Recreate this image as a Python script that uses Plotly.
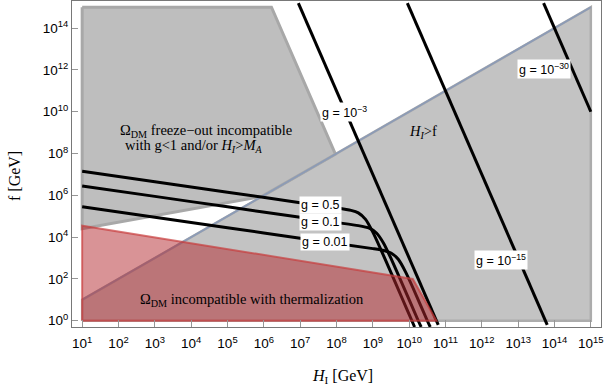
import plotly.graph_objects as go

# ---- data (log10 values) ----
x_tick_exps = list(range(1, 16))
y_tick_exps = list(range(0, 15, 2))
x_tick_labels = [f"10<sup>{k}</sup>" for k in x_tick_exps]
y_tick_labels = [f"10<sup>{k}</sup>" for k in y_tick_exps]

# region: H_I > f  (below the diagonal)
hf_region_h = [1, 1, 15, 15, 1]
hf_region_f = [0, 1, 15, 0, 0]

# region: freeze-out incompatible
fo_region_h = [1, 6.21, 7.97, 5.95, 1, 1]
fo_region_f = [15, 15, 7.97, 5.95, 4.4, 15]

# region: incompatible with thermalization
th_region_h = [1, 1, 10.1, 10.75, 1]
th_region_f = [0, 4.55, 2.0, 0, 0]

# straight lines (g = 1e-3, 1e-15, 1e-30)
g3_h = [6.95, 10.8]
g3_f = [15.2, -0.2]
g15_h = [9.95, 13.8]
g15_f = [15.2, -0.2]
g30_h = [13.7, 15.0]
g30_f = [15.2, 10.0]

# curves g = 0.5, 0.1, 0.01
g05_h = [1, 3, 5, 7, 8, 8.4, 8.6, 8.8, 9.0, 9.2, 9.5, 9.8, 10.075, 10.15]
g05_f = [7.15, 6.65, 6.15, 5.65, 5.40, 5.28, 5.16, 4.85, 4.24, 3.49, 2.30, 1.10, 0.0, -0.3]
g01_h = [1, 3, 5, 7, 8, 8.6, 8.9, 9.1, 9.3, 9.5, 9.8, 10.25, 10.33]
g01_f = [6.45, 5.95, 5.45, 4.95, 4.70, 4.55, 4.43, 4.20, 3.70, 2.98, 1.80, 0.0, -0.3]
g001_h = [1, 3, 5, 7, 9.0, 9.3, 9.5, 9.7, 9.9, 10.1, 10.5, 10.58]
g001_f = [5.45, 4.95, 4.45, 3.95, 3.45, 3.36, 3.24, 2.94, 2.34, 1.59, 0.0, -0.3]


def p(v):
    return [10 ** a for a in v]


fig = go.Figure()

GRAY = "rgb(195,195,195)"

fig.add_trace(go.Scatter(x=p(hf_region_h), y=p(hf_region_f), mode="lines", fill="toself",
                         fillcolor=GRAY, line=dict(color="rgb(172,172,172)", width=2.5),
                         hoverinfo="skip", showlegend=False))
fig.add_trace(go.Scatter(x=p(fo_region_h), y=p(fo_region_f), mode="lines", fill="toself",
                         fillcolor="rgb(190,190,190)", line=dict(color="rgb(168,168,168)", width=3),
                         hoverinfo="skip", showlegend=False))
fig.add_trace(go.Scatter(x=p([1, 15]), y=p([1, 15]), mode="lines",
                         line=dict(color="rgb(140,155,182)", width=1.8),
                         hoverinfo="skip", showlegend=False))

for hh, ff in [(g3_h, g3_f), (g15_h, g15_f), (g30_h, g30_f)]:
    fig.add_trace(go.Scatter(x=p(hh), y=p(ff), mode="lines",
                             line=dict(color="black", width=3),
                             hoverinfo="skip", showlegend=False))
for hh, ff in [(g05_h, g05_f), (g01_h, g01_f), (g001_h, g001_f)]:
    fig.add_trace(go.Scatter(x=p(hh), y=p(ff), mode="lines",
                             line=dict(color="black", width=3, shape="spline", smoothing=0.6),
                             hoverinfo="skip", showlegend=False))

fig.add_trace(go.Scatter(x=p(th_region_h), y=p(th_region_f), mode="lines", fill="toself",
                         fillcolor="rgba(180,40,45,0.5)",
                         line=dict(color="rgba(200,60,60,0.7)", width=2),
                         hoverinfo="skip", showlegend=False))

SANS = "Liberation Sans, Arial, sans-serif"
SERIF = "Liberation Serif, Times New Roman, serif"

ann = []


def lab(h, f, text, size=12.5, font=SANS, bg="white"):
    d = dict(x=h, y=f, xref="x", yref="y", text=text, showarrow=False,
             font=dict(family=font, size=size, color="black"),
             borderpad=1, xanchor="center", yanchor="middle")
    if bg:
        d["bgcolor"] = bg
    ann.append(d)


lab(7.573, 5.538, "g = 0.5")
lab(7.573, 4.725, "g = 0.1")
lab(7.684, 3.768, "g = 0.01")
lab(8.207, 9.989, "g = 10<sup>−3</sup>")
lab(12.528, 2.907, "g = 10<sup>−15</sup>")
lab(13.711, 12.046, "g = 10<sup>−30</sup>")

lab(4.408, 9.06, "Ω<sub>DM</sub> freeze−out incompatible", size=14.5, font=SERIF, bg=None)
lab(4.078, 8.38, "with g&lt;1 and/or <i>H<sub>I</sub></i>&gt;<i>M<sub>A</sub></i>", size=14.5, font=SERIF, bg=None)
lab(10.38, 9.03, "<i>H<sub>I</sub></i>&gt;f", size=14.5, font=SERIF, bg=None)
lab(5.674, 0.993, "Ω<sub>DM</sub> incompatible with thermalization", size=14.5, font=SERIF, bg=None)

PL, PR, PT, PB = 72, 6, 1, 63
W, H = 607, 390

# axis titles (pixel positions converted to paper fractions)
ann.append(dict(x=(342 - PL) / (W - PL - PR), y=(H - 376 - PB) / (H - PT - PB),
                xref="paper", yref="paper", text="<i>H</i><sub>I</sub> [GeV]",
                xanchor="center", yanchor="middle",
                showarrow=False, font=dict(family=SERIF, size=16, color="black")))
ann.append(dict(x=(14 - PL) / (W - PL - PR), y=(H - 176 - PB) / (H - PT - PB),
                xref="paper", yref="paper", text="f [GeV]", textangle=-90,
                xanchor="center", yanchor="middle",
                showarrow=False, font=dict(family=SERIF, size=16, color="black")))

fig.update_layout(
    width=W, height=H,
    margin=dict(l=PL, r=PR, t=PT, b=PB, autoexpand=False),
    paper_bgcolor="white", plot_bgcolor="white",
    annotations=ann,
    xaxis=dict(type="log", range=[0.72, 15.28], tickvals=p(x_tick_exps), ticktext=x_tick_labels,
               ticks="inside", ticklen=7, tickcolor="rgb(150,150,150)", showgrid=False, zeroline=False,
               showline=True, linecolor="rgb(120,120,120)", linewidth=1, mirror=True, automargin=False,
               ticklabelstandoff=4,
               tickfont=dict(family=SANS, size=13.5, color="black"),
               minor=dict(ticks="inside", ticklen=4, tickcolor="rgb(150,150,150)", showgrid=False)),
    yaxis=dict(type="log", range=[-0.3, 15.3], tickvals=p(y_tick_exps), ticktext=y_tick_labels,
               ticks="inside", ticklen=6, tickcolor="rgb(150,150,150)", showgrid=False, zeroline=False,
               showline=True, linecolor="rgb(120,120,120)", linewidth=1, mirror=True, automargin=False,
               tickfont=dict(family=SANS, size=13.5, color="black")),
)

fig.write_html("out.html", config={"displayModeBar": False},
               post_script="document.body.style.margin='0';")
